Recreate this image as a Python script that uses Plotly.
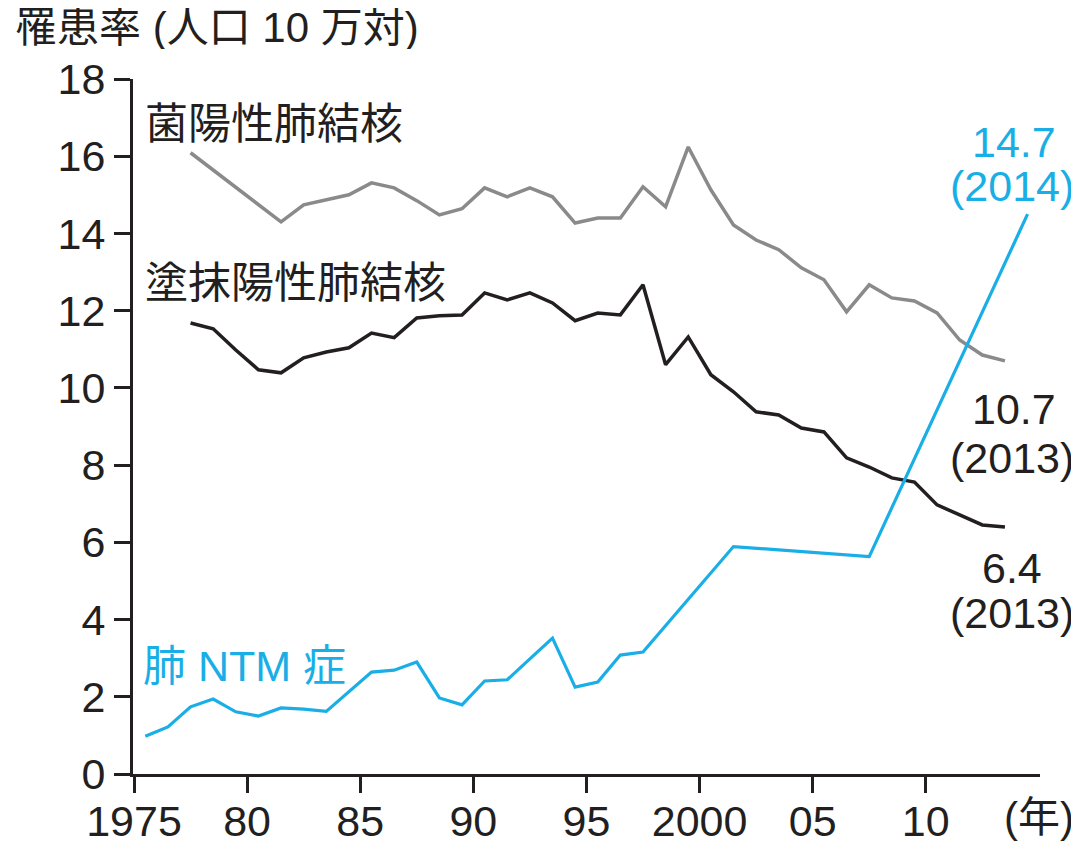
import plotly.graph_objects as go

# ---- data ----
tb_years = list(range(1977, 2014))
culture_pos = [16.09, 15.64, 15.20, 14.75, 14.30, 14.74, 14.87, 15.00, 15.31, 15.18,
               14.85, 14.48, 14.64, 15.18, 14.95, 15.18, 14.95, 14.27, 14.40, 14.40,
               15.21, 14.69, 16.24, 15.13, 14.22, 13.83, 13.58, 13.11, 12.80, 11.97,
               12.67, 12.33, 12.25, 11.94, 11.24, 10.85, 10.70]
smear_pos = [11.68, 11.53, 10.98, 10.47, 10.39, 10.78, 10.93, 11.04, 11.42, 11.30,
             11.81, 11.87, 11.89, 12.46, 12.28, 12.46, 12.20, 11.74, 11.94, 11.89,
             12.67, 10.60, 11.32, 10.34, 9.90, 9.38, 9.30, 8.96, 8.86, 8.19,
             7.95, 7.67, 7.56, 6.97, 6.71, 6.45, 6.40]
ntm_years = list(range(1975, 1998)) + [2001, 2007, 2014]
ntm_rate = [0.98, 1.22, 1.74, 1.94, 1.61, 1.50, 1.71, 1.68, 1.62, 2.13,
            2.64, 2.69, 2.90, 1.97, 1.79, 2.41, 2.44, 2.98, 3.52, 2.25,
            2.38, 3.08, 3.16, 5.89, 5.63, 14.50]

x_tickvals = [1975, 1980, 1985, 1990, 1995, 2000, 2005, 2010]
x_ticktext = ["1975", "80", "85", "90", "95", "2000", "05", "10"]
y_tickvals = list(range(0, 19, 2))

series_names = ["菌陽性肺結核", "塗抹陽性肺結核", "肺 NTM 症"]
y_title = "罹患率 (人口 10 万対)"
x_title = "(年)"

# ---- style ----
MID = 0.5  # annual values drawn at mid-year
GRAY = "#8a8a8a"
BLACK = "#231f20"
BLUE = "#1aaee6"
FONT = "Liberation Sans, Noto Sans CJK JP, sans-serif"

fig = go.Figure()
fig.add_trace(go.Scatter(x=[y + MID for y in tb_years], y=culture_pos, mode="lines",
                         line=dict(color=GRAY, width=3.5), name=series_names[0]))
fig.add_trace(go.Scatter(x=[y + MID for y in tb_years], y=smear_pos, mode="lines",
                         line=dict(color=BLACK, width=3.5), name=series_names[1]))
fig.add_trace(go.Scatter(x=[y + MID for y in ntm_years], y=ntm_rate, mode="lines",
                         line=dict(color=BLUE, width=3.2), name=series_names[2]))

ann = []
def add(text, x, y, color=BLACK, size=43, xanchor="left", xref="x", yref="y", height=None):
    d = dict(text=text, x=x, y=y, xref=xref, yref=yref, showarrow=False,
             xanchor=xanchor, yanchor="middle",
             font=dict(family=FONT, size=size, color=color))
    if height is not None:
        d["height"] = height
        d["valign"] = "middle"
    ann.append(d)

add(series_names[0], 1975.40, 16.84)
add(series_names[1], 1975.40, 12.72)
add(series_names[2], 1975.31, 2.80, color=BLUE)
add("14.7", 2013.9, 16.38, color=BLUE, xanchor="center")
add("(2014)", 2013.82, 15.23, color=BLUE, xanchor="center")
add("10.7", 2013.9, 9.45, xanchor="center")
add("(2013)", 2013.82, 8.18, xanchor="center")
add("6.4", 2013.82, 5.34, xanchor="center")
add("(2013)", 2013.8, 4.17, xanchor="center")
add(y_title, -0.1323, 1.0748, size=42, xref="paper", yref="paper", height=44)
add(x_title, 0.958, -0.0620, size=42, xref="paper", yref="paper")

fig.update_layout(
    width=1071, height=836,
    margin=dict(l=125, r=39, t=71, b=70, pad=0),
    paper_bgcolor="white", plot_bgcolor="white",
    showlegend=False,
    annotations=ann,
    font=dict(family=FONT, color=BLACK),
)
fig.update_xaxes(range=[1974.956, 2015.05], tickvals=x_tickvals, ticktext=x_ticktext,
                 automargin=False, ticklabelstandoff=-9,
                 showgrid=False, zeroline=False, showline=True, linecolor=BLACK, linewidth=3,
                 ticks="outside", ticklen=16, tickwidth=3, tickcolor=BLACK,
                 tickfont=dict(family=FONT, size=43, color=BLACK))
fig.update_yaxes(range=[0, 18], tickvals=y_tickvals, automargin=False,
                 showgrid=False, zeroline=False, showline=True, linecolor=BLACK, linewidth=3,
                 ticks="outside", ticklen=16, tickwidth=3, tickcolor=BLACK,
                 tickfont=dict(family=FONT, size=43, color=BLACK))

fig.write_html("out.html")
